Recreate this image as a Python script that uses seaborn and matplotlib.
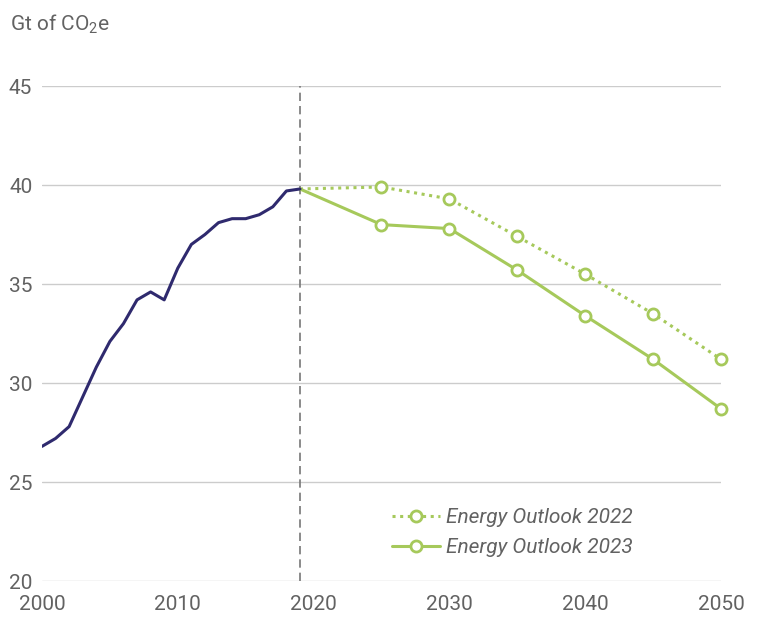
import pandas as pd
import seaborn as sns
import matplotlib.pyplot as plt
from matplotlib.lines import Line2D

# historical emissions
hist_years = list(range(2000, 2020))
hist_values = [26.8, 27.2, 27.8, 29.3, 30.8, 32.1, 33.0, 34.2, 34.6, 34.2,
               35.8, 37.0, 37.5, 38.1, 38.3, 38.3, 38.5, 38.9, 39.7, 39.8]

# projections
proj_years = [2019, 2025, 2030, 2035, 2040, 2045, 2050]
outlook_2022 = [39.8, 39.9, 39.3, 37.4, 35.5, 33.5, 31.2]
outlook_2023 = [39.8, 38.0, 37.8, 35.7, 33.4, 31.2, 28.7]

label_2022 = "Energy Outlook 2022"
label_2023 = "Energy Outlook 2023"
y_label = "Gt of CO$_2$e"

navy = "#2f2a6e"
green = "#a6c95b"
grey_text = "#626262"

sns.set_theme(style="white")
plt.rcParams['font.family'] = ['Roboto', 'DejaVu Sans']
plt.rcParams['mathtext.fontset'] = 'custom'
plt.rcParams['mathtext.rm'] = 'Roboto'

hist_df = pd.DataFrame({"year": hist_years, "value": hist_values})
proj_df = pd.DataFrame({"year": proj_years * 2,
                        "value": outlook_2022 + outlook_2023,
                        "series": [label_2022] * len(proj_years) + [label_2023] * len(proj_years)})

fig = plt.figure(figsize=(7.59, 6.17), dpi=100)
ax = fig.add_axes([0.0553, 0.0583, 0.8946, 0.8023])

ax.axvline(2019, color="#777777", lw=1.2, dashes=(5, 3), zorder=1)

sns.lineplot(data=hist_df, x="year", y="value", color=navy, lw=2.2, ax=ax, zorder=3)

styles = {label_2022: (0, (1, 1.5)), label_2023: "-"}
for name, grp in proj_df.groupby("series"):
    sns.lineplot(x=grp["year"].values, y=grp["value"].values, color=green, lw=2.2,
                 ls=styles[name], zorder=2, clip_on=False, ax=ax)
    ax.plot(grp["year"].iloc[1:], grp["value"].iloc[1:], ls="none", marker="o",
            ms=8, mfc="white", mec=green, mew=2, zorder=4, clip_on=False)

# legend handles
handles = [Line2D([], [], color=green, lw=2.2, ls=styles[label_2022], marker="o",
                  ms=8, mfc="white", mec=green, mew=2),
           Line2D([], [], color=green, lw=2.2, ls="-", marker="o",
                  ms=8, mfc="white", mec=green, mew=2)]
leg = ax.legend(handles, [label_2022, label_2023], loc="lower left",
                bbox_to_anchor=(0.503, 0.032), frameon=False, handlelength=2.3,
                handletextpad=0.3, labelspacing=0.5, borderaxespad=0,
                prop={"size": 15, "style": "italic"})
for t in leg.get_texts():
    t.set_color(grey_text)

ax.set_xlim(2000, 2050)
ax.set_ylim(20, 45)
ax.set_xticks([2000, 2010, 2020, 2030, 2040, 2050])
ax.set_yticks([20, 25, 30, 35, 40, 45])
ax.yaxis.grid(True, color="#cccccc", lw=1)
ax.xaxis.grid(False)
sns.despine(ax=ax, left=True, bottom=True)
ax.tick_params(axis="both", length=0, labelsize=15, labelcolor=grey_text)
ax.tick_params(axis="y", pad=7)
ax.tick_params(axis="x", pad=10)
ax.set_xlabel("")
ax.set_ylabel("")

fig.text(0.013, 0.98, y_label, fontsize=15, color=grey_text, va="top", ha="left")

fig.savefig("out.png", dpi=100)
